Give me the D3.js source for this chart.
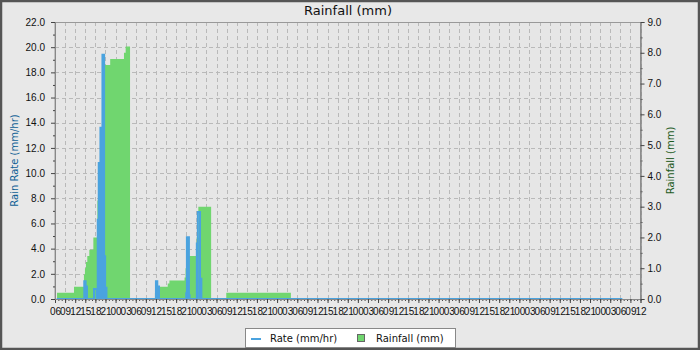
<!DOCTYPE html>
<html>
<head>
<meta charset="utf-8">
<script src="https://cdn.jsdelivr.net/npm/d3@7"></script>
<style>
  body { margin: 0; background: #e8e8e8; }
  svg { display: block; font-family: "DejaVu Sans", sans-serif; }
  .tick text { font-size: 10px; fill: #111; }
</style>
</head>
<body>
<div id="chart"></div>
<script>

// hours after 06:00 on the first day, and the reading that holds from then on
var rainHours = [0.6, 5.65, 8.6, 8.9, 9.2, 9.6, 10.2, 11.4, 12.6, 13.1, 13.98, 14.4, 16.4, 20.5, 21.0, 22.3,
                 29.7, 30.8, 33.5, 34.0, 38.5, 38.8, 39.8, 42.1, 42.6, 46.4,
                 50.9, 70.1];
var rainMm    = [0.2, 0.4, 0.8, 1.0, 1.2, 1.4, 1.6, 2.0, 3.2, 4.4, 6.0, 7.6, 7.8, 8.0, 8.2, 0,
                 0.2, 0.4, 0.5, 0.6, 0.7, 1.0, 1.4, 2.0, 3.0, 0,
                 0.2, 0];

var rateHours = [0.5, 8.7, 9.1, 9.5, 11.6, 12.4, 12.7, 13.0, 13.5, 14.1, 14.6, 14.9, 15.3,
                 30.0, 30.4, 30.9, 39.0, 39.2, 39.8, 40.0, 42.15, 42.45, 43.1, 43.5, 168.6];
var rateMmHr  = [0, 1.4, 1.0, 0, 0.8, 0, 6.3, 10.8, 13.6, 19.4, 3.4, 0.9, 0,
                 1.4, 1.0, 0, 0.45, 4.9, 0.3, 0, 4.4, 6.9, 1.6, 0, 0];

var totalHours = 174;
var rateTicks = d3.range(0, 22.01, 2);
var rainTicks = d3.range(0, 9.01, 1);

var W = 700, H = 350;
var margin = { top: 22, right: 60, bottom: 51, left: 55 };
var start = new Date(2024, 0, 1, 6, 0);
function toDate(h){ return new Date(start.getTime() + h * 3600000); }

var svg = d3.select("#chart").append("svg")
	.attr("width", W).attr("height", H);

// chart background + border
svg.append("rect").attr("x", 1).attr("y", 1).attr("width", W - 2).attr("height", H - 2)
	.attr("fill", "#e8e8e8").attr("stroke", "#555").attr("stroke-width", 2.5);

var x = d3.scaleTime()
	.domain([start, toDate(totalHours)])
	.range([margin.left, W - margin.right + 0.5]);
var yRate = d3.scaleLinear().domain([0, 22]).range([H - margin.bottom, margin.top]);
var yRain = d3.scaleLinear().domain([0, 9]).range([H - margin.bottom, margin.top]);

var x0 = x.range()[0], x1 = x.range()[1], yb = yRate(0), yt = yRate(22);

// plot background
svg.append("rect").attr("x", x0).attr("y", yt).attr("width", x1 - x0).attr("height", yb - yt)
	.attr("fill", "#e6e6e6");

// gridlines
var majorX = d3.timeHour.every(3).range(start, toDate(totalHours + 0.01));
var minorX = d3.timeHour.range(start, toDate(totalHours + 0.01));
var grid = svg.append("g").attr("stroke", "#b9b9b9").attr("stroke-dasharray", "4,3").attr("stroke-width", 1);
grid.selectAll(".gx").data(majorX).enter().append("line")
	.attr("x1", function(d){ return Math.round(x(d)) + 0.5 }).attr("x2", function(d){ return Math.round(x(d)) + 0.5 })
	.attr("y1", yt).attr("y2", yb);
grid.selectAll(".gy").data(rateTicks).enter().append("line")
	.attr("x1", x0).attr("x2", x1)
	.attr("y1", function(d){ return Math.round(yRate(d)) + 0.5 }).attr("y2", function(d){ return Math.round(yRate(d)) + 0.5 });

// rainfall (green steps)
var rain = rainHours.map(function(h, i){ return { t: toDate(h), v: rainMm[i] } });
var area = d3.area().curve(d3.curveStepAfter)
	.x(function(d){ return x(d.t) })
	.y0(yRain(0))
	.y1(function(d){ return yRain(d.v) });
svg.append("path").datum(rain).attr("d", area).attr("fill", "#70d66f");

// rate (blue line) - each reading rises from zero and falls back, like dense logger data
var rate = [];
rateHours.forEach(function(h, i){
	var v = rateMmHr[i], next = i + 1 < rateHours.length ? rateHours[i + 1] : h;
	rate.push({ t: toDate(h), v: 0 });
	if (v > 0) {
		rate.push({ t: toDate(h), v: v });
		rate.push({ t: toDate(next), v: v });
		rate.push({ t: toDate(next), v: 0 });
	}
});
var line = d3.line()
	.x(function(d){ return x(d.t) })
	.y(function(d){ return yRate(d.v) });
svg.append("path").datum(rate).attr("d", line)
	.attr("fill", "none").attr("stroke", "#4aa3df").attr("stroke-width", 2);

// plot outline
svg.append("rect").attr("x", x0).attr("y", yt + 0.5).attr("width", x1 - x0).attr("height", yb - yt)
	.attr("fill", "none").attr("stroke", "#999").attr("stroke-width", 1);

// axes
function styleAxis(g){
	g.select(".domain").attr("stroke", "#888");
	g.selectAll(".tick line").attr("stroke", "#444");
}

var xMinor = svg.append("g").attr("transform", "translate(0," + yb + ")")
	.call(d3.axisBottom(x).tickValues(minorX).tickSize(2).tickFormat(""));
styleAxis(xMinor);
var xMajor = svg.append("g").attr("transform", "translate(0," + yb + ")")
	.call(d3.axisBottom(x).tickValues(majorX).tickSize(4).tickPadding(5).tickFormat(d3.timeFormat("%H")));
styleAxis(xMajor);

var yMinor = svg.append("g").attr("transform", "translate(" + x0 + ",0)")
	.call(d3.axisLeft(yRate).tickValues(d3.range(1, 22, 2)).tickSize(2).tickFormat(""));
styleAxis(yMinor);
var yMajor = svg.append("g").attr("transform", "translate(" + x0 + ",0)")
	.call(d3.axisLeft(yRate).tickValues(rateTicks).tickSize(4).tickPadding(6).tickFormat(d3.format(".1f")));
styleAxis(yMajor);

var rMinor = svg.append("g").attr("transform", "translate(" + x1 + ",0)")
	.call(d3.axisRight(yRain).tickValues(d3.range(0.5, 9, 1)).tickSize(2).tickFormat(""));
styleAxis(rMinor);
var rMajor = svg.append("g").attr("transform", "translate(" + x1 + ",0)")
	.call(d3.axisRight(yRain).tickValues(rainTicks).tickSize(4).tickPadding(3).tickFormat(d3.format(".1f")));
styleAxis(rMajor);

// title + axis labels
svg.append("text").text("Rainfall (mm)")
	.attr("x", 348).attr("y", 15).attr("text-anchor", "middle")
	.style("font-size", "13px").attr("fill", "#111");

svg.append("text").text("Rain Rate (mm/hr)")
	.attr("transform", "translate(18," + ((yt + yb) / 2) + ") rotate(-90)")
	.attr("text-anchor", "middle").style("font-size", "10px").attr("fill", "#0e5f95");

svg.append("text").text("Rainfall (mm)")
	.attr("transform", "translate(674," + ((yt + yb) / 2) + ") rotate(-90)")
	.attr("text-anchor", "middle").style("font-size", "10px").attr("fill", "#1c5a1c");

// legend
var leg = svg.append("g");
leg.append("rect").attr("x", 245.5).attr("y", 328.5).attr("width", 210).attr("height", 19)
	.attr("fill", "#fff").attr("stroke", "#888");
leg.append("line").attr("x1", 251).attr("x2", 261).attr("y1", 339).attr("y2", 339)
	.attr("stroke", "#4aa3df").attr("stroke-width", 2);
leg.append("text").text("Rate (mm/hr)").attr("x", 270).attr("y", 342).style("font-size", "10px").attr("fill", "#111");
leg.append("rect").attr("x", 357.5).attr("y", 334.5).attr("width", 7).attr("height", 7)
	.attr("fill", "#70d66f").attr("stroke", "#666");
leg.append("text").text("Rainfall (mm)").attr("x", 376).attr("y", 342).style("font-size", "10px").attr("fill", "#111");

</script>
</body>
</html>
